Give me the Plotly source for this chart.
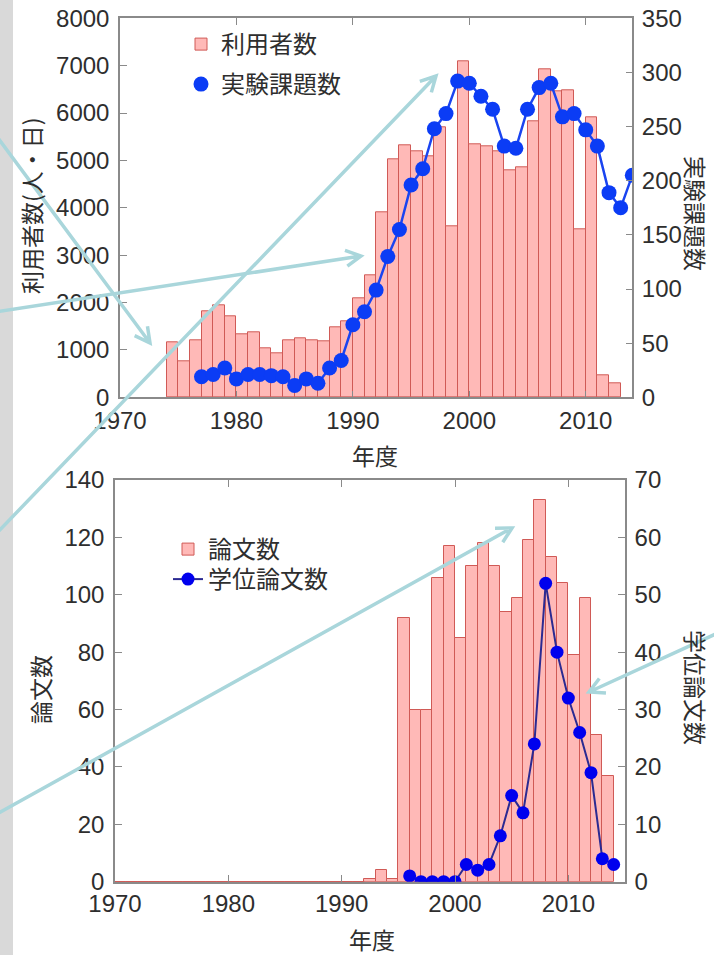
import math
import plotly.graph_objects as go

W, H = 714, 955

# ---- data -------------------------------------------------------------
# users (person-days) per fiscal year, bar left edge = year
user_years = list(range(1974, 2013))
users = [1170, 770, 1210, 1820, 1950, 1700, 1320, 1370, 1040, 920,
         1210, 1250, 1210, 1180, 1470, 1600, 2100, 2580, 3900, 5030,
         5310, 5190, 5080, 5700, 3600, 7090, 5350, 5300, 5200, 4800,
         4860, 5820, 6930, 6450, 6490, 3550, 5920, 470, 300]

# accepted experiment proposals per year
proposal_years = list(range(1977, 2015))
proposals = [19, 21, 27, 17, 21, 21, 20, 19, 11, 17, 13, 27, 34,
             67, 79, 99, 130, 155, 196, 211, 248, 262, 292, 290, 278,
             266, 232, 230, 266, 286, 290, 259, 262, 247, 232, 189, 175, 205]

# published papers per year
paper_years = list(range(1970, 2014))
papers = [0] * 22 + [1, 4, 1, 92, 60, 60, 106, 117, 85, 110, 118, 110,
                     94, 99, 119, 133, 113, 104, 79, 99, 51, 37]

# doctoral / master theses per year
thesis_years = list(range(1996, 2015))
theses = [1, 0, 0, 0, 0, 3, 2, 3, 8, 15, 12, 24, 52, 40, 32, 26, 19, 4, 3]

year_ticks = [1970, 1980, 1990, 2000, 2010]

# ---- styling ----------------------------------------------------------
NUM_FONT = "Liberation Sans, Arial, sans-serif"
JP_FONT = "Noto Sans CJK JP, sans-serif"
BAR_FILL = "#ffb9b7"
BAR_EDGE = "#d05a56"
AXIS_COL = "#8a8a8a"
TEXT_COL = "#2e2e2e"
ARROW_COL = "#a9d6db"


def px(x):
    return x / W


def py(y):
    return 1 - y / H


fig = go.Figure()

# upper panel: users (bars, left axis) and proposals (line, right axis)
fig.add_trace(go.Bar(
    x=user_years, y=users, offset=0, width=1,
    marker=dict(color=BAR_FILL, line=dict(color=BAR_EDGE, width=1)),
    name="利用者数", xaxis="x", yaxis="y", legend="legend",
))
fig.add_trace(go.Scatter(
    x=proposal_years, y=proposals, mode="lines",
    line=dict(color="#1a44f0", width=2.5),
    showlegend=False, xaxis="x", yaxis="y2", hoverinfo="skip",
))
fig.add_trace(go.Scatter(
    x=proposal_years, y=proposals, mode="markers",
    marker=dict(color="#0b3cf5", size=15),
    name="実験課題数", xaxis="x", yaxis="y2", legend="legend2",
))

# lower panel: papers (bars, left axis) and theses (line, right axis)
zero_x = [yr for yr, v in zip(paper_years, papers) if v == 0]
zero_x = zero_x + [zero_x[-1] + 1]
fig.add_trace(go.Scatter(
    x=zero_x, y=[0] * len(zero_x), mode="lines",
    line=dict(color=BAR_EDGE, width=1.5),
    showlegend=False, xaxis="x2", yaxis="y3", hoverinfo="skip",
))
fig.add_trace(go.Bar(
    x=paper_years, y=papers, offset=0, width=1,
    marker=dict(color=BAR_FILL, line=dict(color=BAR_EDGE, width=1)),
    name="論文数", xaxis="x2", yaxis="y3", legend="legend3",
))
fig.add_trace(go.Scatter(
    x=thesis_years, y=theses, mode="lines+markers",
    line=dict(color="#2b2a92", width=2),
    marker=dict(color="#0000ee", size=13),
    name="学位論文数", xaxis="x2", yaxis="y4", legend="legend4",
))

axis_common = dict(
    showline=True, linecolor=AXIS_COL, linewidth=1.5,
    ticks="inside", ticklen=7, tickcolor=AXIS_COL, tickwidth=1.2,
    tickfont=dict(family=NUM_FONT, size=24, color=TEXT_COL),
    showgrid=False, zeroline=False, automargin=False,
)

top_x = [px(120), px(632.3)]
top_y = [py(397.3), py(18.3)]
bot_x = [px(115), px(625)]
bot_y = [py(881.7), py(480)]


def legend_at(x, y):
    return dict(x=px(x), y=py(y), xanchor="left", yanchor="top",
                bgcolor="rgba(0,0,0,0)",
                font=dict(family=JP_FONT, size=24, color=TEXT_COL))


fig.update_layout(
    width=W, height=H, template="none",
    margin=dict(l=0, r=0, t=0, b=0, pad=0),
    paper_bgcolor="white", plot_bgcolor="white",
    font=dict(family=NUM_FONT, color=TEXT_COL),
    bargap=0, barmode="overlay",
    xaxis=dict(axis_common, domain=top_x, range=[1970, 2014],
               tickvals=year_ticks, mirror="ticks", anchor="y",
               ticklabelstandoff=1),
    yaxis=dict(axis_common, domain=top_y, range=[0, 8000], dtick=1000,
               anchor="x", ticklabelstandoff=4),
    yaxis2=dict(axis_common, range=[0, 350], dtick=50, overlaying="y",
                side="right", anchor="x", ticklabelstandoff=3),
    xaxis2=dict(axis_common, domain=bot_x, range=[1970, 2015],
                tickvals=year_ticks, mirror="ticks", anchor="y3",
                ticklabelstandoff=0),
    yaxis3=dict(axis_common, domain=bot_y, range=[0, 140], dtick=20,
                anchor="x2", ticklabelstandoff=4),
    yaxis4=dict(axis_common, range=[0, 70], dtick=10, overlaying="y3",
                side="right", anchor="x2", ticklabelstandoff=3),
    legend=legend_at(181, 22),
    legend2=legend_at(181, 62),
    legend3=legend_at(168, 527),
    legend4=legend_at(168, 557),
)

# axis titles
titles = [
    ("利用者数(人・日)", 31, 206, -90),
    ("実験課題数", 696, 213, 90),
    ("年度", 375, 455, 0),
    ("論文数", 40, 690, -90),
    ("学位論文数", 696, 687, 90),
    ("年度", 372, 939, 0),
]
for text, x, y, ang in titles:
    fig.add_annotation(
        text=text, x=px(x), y=py(y), xref="paper", yref="paper",
        xanchor="center", yanchor="middle", showarrow=False,
        textangle=ang, font=dict(family=JP_FONT, size=23, color=TEXT_COL),
    )

# grey strip along the left edge
fig.add_shape(type="rect", xref="paper", yref="paper",
              x0=0, x1=px(13), y0=0, y1=1,
              fillcolor="#d9d9d9", line=dict(width=0), layer="below")

# callout arrows (tail -> head, in pixels)
arrows = [
    ((-5, 134), (150, 343)),
    ((-5, 312), (361, 256)),
    ((-5, 535), (436, 76)),
    ((-5, 815), (512, 528)),
    ((720, 632), (589, 692)),
]


def arrow_path(tail, head, arm=17, half=math.radians(28)):
    (tx, ty), (hx, hy) = tail, head
    dx, dy = hx - tx, hy - ty
    length = math.hypot(dx, dy)
    bx, by = -dx / length, -dy / length
    pts = []
    for s in (half, -half):
        c, sn = math.cos(s), math.sin(s)
        pts.append((hx + arm * (bx * c - by * sn), hy + arm * (bx * sn + by * c)))
    (a1x, a1y), (a2x, a2y) = pts
    return (f"M {px(tx)},{py(ty)} L {px(hx)},{py(hy)} "
            f"M {px(a1x)},{py(a1y)} L {px(hx)},{py(hy)} L {px(a2x)},{py(a2y)}")


for tail, head in arrows:
    fig.add_shape(type="path", xref="paper", yref="paper",
                  path=arrow_path(tail, head),
                  line=dict(color=ARROW_COL, width=3.5), layer="above")

fig.write_html("out.html")
